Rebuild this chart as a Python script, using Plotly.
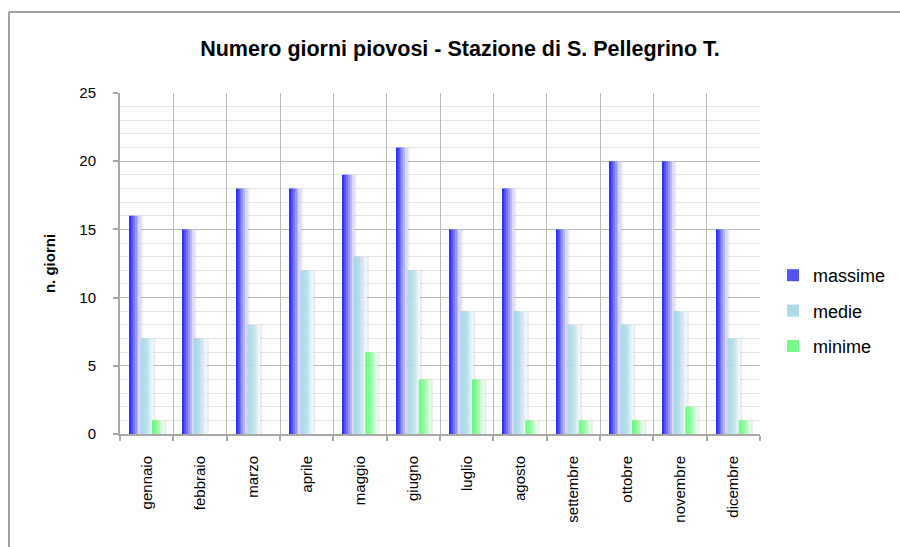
import plotly.graph_objects as go

months = ["gennaio", "febbraio", "marzo", "aprile", "maggio", "giugno",
          "luglio", "agosto", "settembre", "ottobre", "novembre", "dicembre"]
massime = [16, 15, 18, 18, 19, 21, 15, 18, 15, 20, 20, 15]
medie = [7, 7, 8, 12, 13, 12, 9, 9, 8, 8, 9, 7]
minime = [1, 0, 0, 0, 6, 4, 4, 1, 1, 1, 2, 1]

W, H = 900, 547
L, R, T, B = 120, 140, 93, 113
PW, PH = W - L - R, H - T - B

def lerp(c1, c2, t):
    return "rgb(%d,%d,%d)" % tuple(round(a + (b - a) * t) for a, b in zip(c1, c2))

series = [
    ("massime", massime, -0.32, 0.21, (50, 50, 245), (215, 215, 255), 1.0),
    ("medie", medie, -0.115, 0.24, (168, 216, 230), (240, 248, 251), 1.8),
    ("minime", minime, 0.10, 0.23, (110, 250, 130), (235, 255, 235), 1.6),
]

fig = go.Figure()
N = 6
for name, vals, off, wid, c1, c2, gam in series:
    # soft shadow
    fig.add_trace(go.Bar(
        x=months, y=vals, offset=off + 0.04, width=wid,
        marker=dict(color="rgba(0,0,0,0.07)", line=dict(width=0)),
        showlegend=False, hoverinfo="skip", legendgroup=name))
    for k in range(N):
        fig.add_trace(go.Bar(
            x=months, y=vals, offset=off + k * wid / N, width=wid / N + 0.002,
            marker=dict(color=lerp(c1, c2, (k / (N - 1)) ** gam), line=dict(width=0)),
            name=name, legendgroup=name, showlegend=(k == 1), hoverinfo="skip" if k else None))

fig.update_layout(
    width=W, height=H,
    margin=dict(l=L, r=R, t=T, b=B, autoexpand=False),
    paper_bgcolor="white", plot_bgcolor="white",
    barmode="overlay",
    font=dict(family="Liberation Sans, Arial, sans-serif", size=15, color="black"),
    title=dict(text="<b>Numero giorni piovosi - Stazione di S. Pellegrino T.</b>",
               x=460 / W, xanchor="center", xref="container", y=1 - 48 / H, yanchor="middle",
               font=dict(size=21.5, color="black")),
    legend=dict(x=(773 - L) / PW, xanchor="left", y=(H - B - 257) / PH, yanchor="top",
                font=dict(size=18), tracegroupgap=9, bgcolor="rgba(0,0,0,0)",
                itemwidth=30),
    showlegend=True,
)
fig.update_xaxes(
    type="category", tickson="boundaries", showgrid=True, gridcolor="#b8b8b8", gridwidth=1,
    showline=True, linecolor="#a8a8a8", linewidth=2,
    ticks="outside", ticklen=5, tickcolor="#a8a8a8", tickwidth=1.5,
    tickangle=-90, ticklabelstandoff=14, tickfont=dict(size=15),
    range=[-0.5, 11.5],
)
fig.update_yaxes(
    range=[0, 25], dtick=5, tick0=0, showgrid=True, gridcolor="#b8b8b8", gridwidth=1.3,
    minor=dict(dtick=1, showgrid=True, gridcolor="#e4e4e4", gridwidth=1),
    showline=True, linecolor="#a8a8a8", linewidth=2,
    ticks="outside", ticklen=5, tickcolor="#a8a8a8", tickwidth=1.5,
    ticklabelstandoff=14, tickfont=dict(size=15), zeroline=False,
    title=dict(text="<b>n. giorni</b>", font=dict(size=15), standoff=20),
)

def px(xp):
    return (xp - L) / PW

def py(yp):
    return (H - B - yp) / PH

fig.add_shape(type="line", xref="paper", yref="paper",
              x0=px(9), x1=px(900), y0=py(12), y1=py(12),
              line=dict(color="#a0a0a0", width=2))
fig.add_shape(type="line", xref="paper", yref="paper",
              x0=px(9), x1=px(9), y0=py(12), y1=py(547),
              line=dict(color="#a0a0a0", width=2))

fig.write_html("out.html")
